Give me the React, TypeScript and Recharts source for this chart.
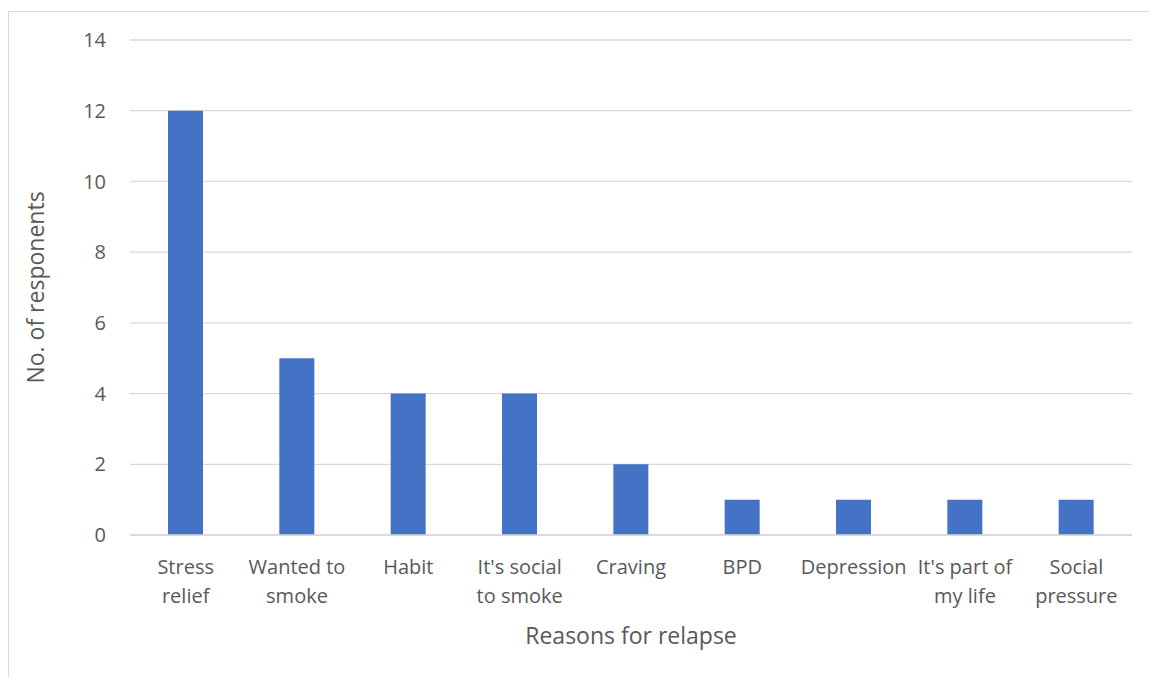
import React from "react";
import { BarChart, Bar, XAxis, YAxis, CartesianGrid, Label } from "recharts";

const categories = [
  "Stress relief",
  "Wanted to smoke",
  "Habit",
  "It's social to smoke",
  "Craving",
  "BPD",
  "Depression",
  "It's part of my life",
  "Social pressure",
];
const respondents = [12, 5, 4, 4, 2, 1, 1, 1, 1];
// Wrapped tick label lines, one entry per category
const tickLines: string[][] = [
  ["Stress", "relief"],
  ["Wanted to", "smoke"],
  ["Habit"],
  ["It's social", "to smoke"],
  ["Craving"],
  ["BPD"],
  ["Depression"],
  ["It's part of", "my life"],
  ["Social", "pressure"],
];
const yTicks = [0, 2, 4, 6, 8, 10, 12, 14];

const data = categories.map((name, i) => ({ name, value: respondents[i] }));

const FONT = "Open Sans, sans-serif";
const TEXT = "#595959";
const GRID = "#d9d9d9";
const FS = 20;
const TITLE_FS = 23;

const CategoryTick = (props: any) => {
  const { x, y, index } = props;
  const lines = tickLines[index] || [String(props.payload?.value ?? "")];
  return (
    <g>
      {lines.map((ln, k) => (
        <text
          key={k}
          x={x}
          y={y + 39 + k * 29}
          textAnchor="middle"
          fill={TEXT}
          fontFamily={FONT}
          fontSize={FS}
        >
          {ln}
        </text>
      ))}
    </g>
  );
};

export default function App() {
  return (
    <div
      style={{
        position: "absolute",
        left: 8,
        top: 11,
        width: 1141,
        height: 666,
        borderLeft: `1px solid ${GRID}`,
        borderTop: `1px solid ${GRID}`,
        background: "#fff",
      }}
    >
      <BarChart
        width={1140}
        height={665}
        data={data}
        margin={{ top: 28, right: 17, left: 41, bottom: 42 }}
      >
        <CartesianGrid vertical={false} stroke={GRID} strokeWidth={1.3} />
        <XAxis
          dataKey="name"
          interval={0}
          height={100}
          tickLine={false}
          tickSize={0}
          tickMargin={0}
          axisLine={{ stroke: GRID, strokeWidth: 1.3 }}
          tick={<CategoryTick />}
        >
          <Label
            content={(p: any) => {
              const vb = p.viewBox || {};
              return (
                <text
                  x={vb.x + vb.width / 2}
                  y={623}
                  textAnchor="middle"
                  dominantBaseline="central"
                  fill={TEXT}
                  fontFamily={FONT}
                  fontSize={TITLE_FS}
                >
                  Reasons for relapse
                </text>
              );
            }}
          />
        </XAxis>
        <YAxis
          width={80}
          domain={[0, 14]}
          ticks={yTicks}
          interval={0}
          axisLine={false}
          tickLine={false}
          tickSize={0}
          tickMargin={24}
          tick={{ fill: TEXT, fontFamily: FONT, fontSize: FS }}
        >
          <Label
            content={(p: any) => {
              const vb = p.viewBox || {};
              const cy = vb.y + vb.height / 2;
              return (
                <text
                  x={26}
                  y={cy}
                  transform={`rotate(-90, 26, ${cy})`}
                  textAnchor="middle"
                  dominantBaseline="central"
                  fill={TEXT}
                  fontFamily={FONT}
                  fontSize={TITLE_FS}
                >
                  No. of responents
                </text>
              );
            }}
          />
        </YAxis>
        <Bar dataKey="value" fill="#4472C4" barSize={35} isAnimationActive={false} />
      </BarChart>
    </div>
  );
}
